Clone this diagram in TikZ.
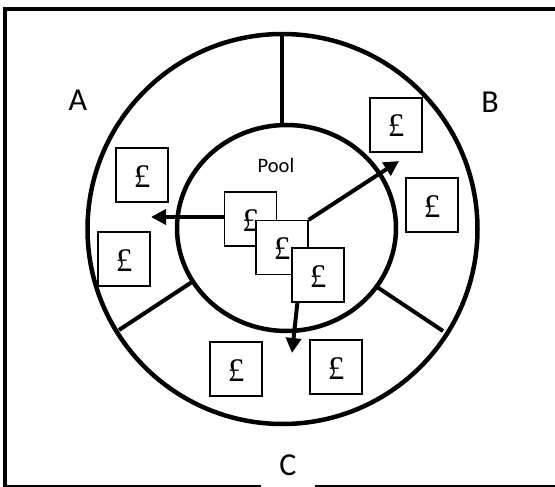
\documentclass[tikz,border=0pt]{standalone}
\usepackage{fontspec}
\setmainfont{Carlito}
\newfontfamily\poundfont{Liberation Serif}
\usepackage{pgf,tikz}
\usetikzlibrary{arrows.meta}

\begin{document}
\begin{tikzpicture}[line join=miter,x=1pt,y=-1pt,>={Triangle[length=15pt,width=15pt]},
	ring/.style={line width=4.5pt},
	split/.style={line width=4pt},
	flow/.style={line width=4pt,->},
	coin/.style={draw,line width=1.2pt,fill=white,inner sep=0pt,minimum width=52pt,minimum height=54pt,text height=24pt,font=\poundfont\fontsize{33}{38}\selectfont},
	part/.style={font=\fontsize{32}{38}\selectfont}]
		\clip (0,0) rectangle (555,487);
		\draw [line width=4pt] (560,9) -- (5,9) -- (5,495);
		\draw [line width=1.5pt] (5,486) -- (560,486);
		\draw [ring] (282.5,229) circle[radius=195pt];
		\draw [ring] (286.5,228) ellipse[x radius=109.5pt,y radius=103pt];
		\draw [split] (282,34) -- (282,125);
		\draw [split] (119,330) -- (192,282);
		\draw [split] (377,287) -- (443,331);
		\node [coin] (a1) at (142,175) {£};
		\node [coin] (a2) at (124,259) {£};
		\node [coin] (b1) at (396,125) {£};
		\node [coin] (b2) at (432,205) {£};
		\node [coin] (c1) at (236,369) {£};
		\node [coin] (c2) at (336,367) {£};
		\node [coin] (p1) at (250.5,219) {£};
		\node [coin] (p2) at (282,247.5) {£};
		\node [coin] (p3) at (318,275) {£};
		\coordinate (tipa) at (151,217);
		\coordinate (tipb) at (399,161);
		\coordinate (tipc) at (292,353);
		\draw [flow] ([yshift=2pt]p1.west) -- (tipa);
		\draw [flow] (p2.north east) -- (tipb);
		\draw [flow] ([xshift=6pt]p3.south west) -- (tipc);
		\node [font=\fontsize{20.5}{24}\selectfont] (pool) at (276,165.5) {Pool};
		\node [part] (sa) at (78,100) {A};
		\node [part] (sb) at (490,102) {B};
		\node [part,fill=white,minimum width=54pt,minimum height=46pt] (sc) at (288,465) {C};
	\end{tikzpicture}
\end{document}
